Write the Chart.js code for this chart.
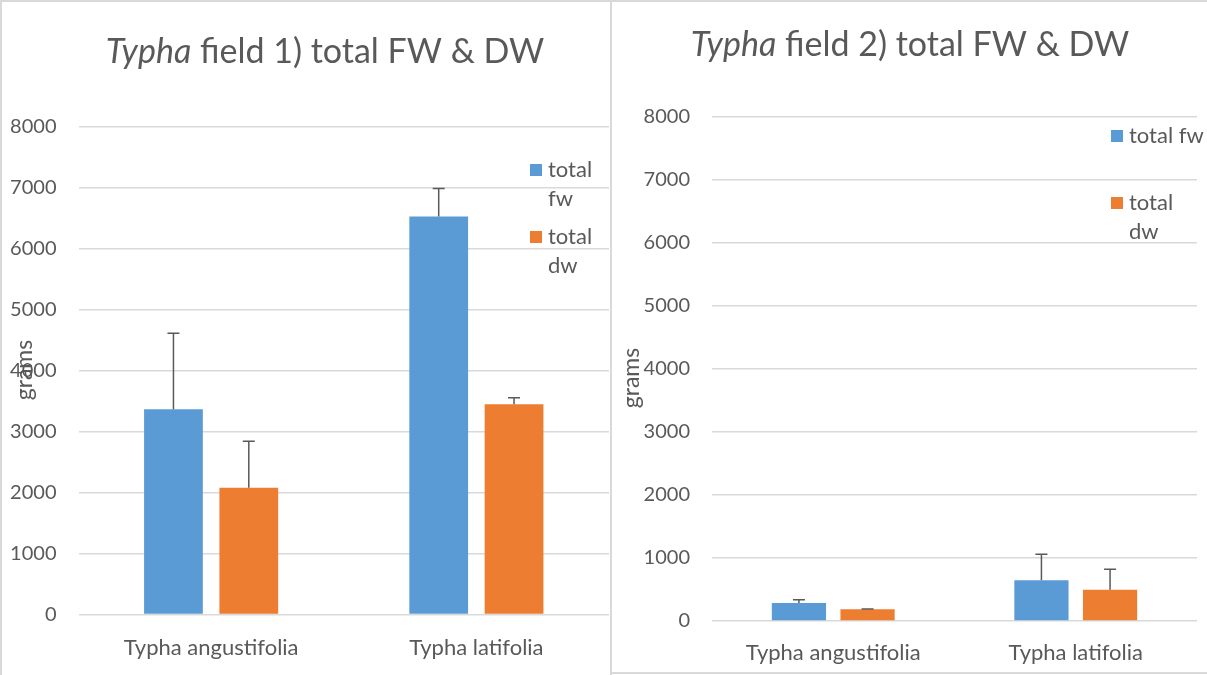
<!DOCTYPE html>
<html>
<head>
<meta charset="utf-8">
<script src="https://cdn.jsdelivr.net/npm/chart.js@4.4.1/dist/chart.umd.min.js"></script>
<style>
  html, body { margin: 0; padding: 0; background: #fff; }
  #wrap { position: relative; width: 1207px; height: 675px; overflow: hidden; }
  canvas { position: absolute; top: 0; }
  #c1 { left: 0; }
  #c2 { left: 610px; }
</style>
</head>
<body>
<div id="wrap">
  <canvas id="c1" width="610" height="675"></canvas>
  <canvas id="c2" width="597" height="675"></canvas>
</div>
<script>
// data
const categories = ['Typha angustifolia', 'Typha latifolia'];
const seriesNames = ['total fw', 'total dw'];
const yMin = 0, yMax = 8000, yStep = 1000;

const field1Fw = [3370, 6530];
const field1FwErr = [1245, 460];
const field1Dw = [2080, 3450];
const field1DwErr = [765, 105];

const field2Fw = [285, 645];
const field2FwErr = [52, 413];
const field2Dw = [186, 497];
const field2DwErr = [5, 324];

const BLUE = '#5b9bd5';
const ORANGE = '#ed7d31';
const TEXT = '#595959';
const GRID = '#d9d9d9';
const FONT = 'Lato, "Open Sans", sans-serif';

// error bars, title, legend, axis title, frame
const overlay = {
  id: 'overlay',
  afterDatasetsDraw(chart, args, o) {
    const ctx = chart.ctx;
    const y = chart.scales.y;
    ctx.save();
    ctx.strokeStyle = TEXT;
    ctx.lineWidth = 1.5;
    chart.data.datasets.forEach((ds, i) => {
      chart.getDatasetMeta(i).data.forEach((bar, j) => {
        const y0 = y.getPixelForValue(ds.data[j]);
        const y1 = y.getPixelForValue(ds.data[j] + ds.errors[j]);
        ctx.beginPath();
        ctx.moveTo(bar.x, y0);
        ctx.lineTo(bar.x, y1);
        ctx.moveTo(bar.x - 6, y1);
        ctx.lineTo(bar.x + 6, y1);
        ctx.stroke();
      });
    });
    ctx.restore();
  },
  afterDraw(chart, args, o) {
    const ctx = chart.ctx;
    ctx.save();
    // title with italic genus
    ctx.fillStyle = TEXT;
    ctx.textBaseline = 'middle';
    ctx.textAlign = 'left';
    const italic = 'italic ' + o.titleSize + 'px ' + FONT;
    const normal = o.titleSize + 'px ' + FONT;
    ctx.font = italic;
    const w1 = ctx.measureText(o.titleItalic).width;
    ctx.font = normal;
    const w2 = ctx.measureText(o.titleRest).width;
    let tx = o.titleX - (w1 + w2) / 2;
    ctx.font = italic;
    ctx.fillText(o.titleItalic, tx, o.titleY);
    ctx.font = normal;
    ctx.fillText(o.titleRest, tx + w1, o.titleY);

    // legend
    ctx.font = o.legendSize + 'px ' + FONT;
    o.legend.forEach((item, i) => {
      ctx.fillStyle = chart.data.datasets[i].backgroundColor;
      ctx.fillRect(item.x, item.y - 6, 12, 12);
      ctx.fillStyle = TEXT;
      item.lines.forEach((line, k) => {
        ctx.fillText(line, item.x + 18, item.y + k * o.lineGap);
      });
    });

    // y axis title
    ctx.font = o.axisTitleSize + 'px ' + FONT;
    ctx.translate(o.axisTitleX, o.axisTitleY);
    ctx.rotate(-Math.PI / 2);
    ctx.textAlign = 'center';
    ctx.fillText('grams', 0, 0);
    ctx.setTransform(1, 0, 0, 1, 0, 0);

    // frame lines
    ctx.strokeStyle = GRID;
    ctx.lineWidth = 2;
    o.frame.forEach(l => {
      ctx.beginPath();
      ctx.moveTo(l[0], l[1]);
      ctx.lineTo(l[2], l[3]);
      ctx.stroke();
    });
    ctx.restore();
  }
};

function makeChart(id, fw, fwErr, dw, dwErr, look) {
  return new Chart(document.getElementById(id), {
    type: 'bar',
    data: {
      labels: categories,
      datasets: [
        { label: seriesNames[0], data: fw, errors: fwErr, backgroundColor: BLUE,
          categoryPercentage: look.catPct, barPercentage: look.barPct },
        { label: seriesNames[1], data: dw, errors: dwErr, backgroundColor: ORANGE,
          categoryPercentage: look.catPct, barPercentage: look.barPct }
      ]
    },
    options: {
      responsive: false,
      animation: false,
      layout: { padding: { left: 0, top: look.top, right: look.right, bottom: 0 } },
      plugins: {
        legend: { display: false },
        tooltip: { enabled: false },
        overlay: look.overlay
      },
      scales: {
        x: {
          grid: { display: false, drawTicks: false },
          border: { display: false },
          ticks: { color: TEXT, font: { family: FONT, size: look.xTickSize }, padding: look.xPad },
          afterFit: s => { s.height = look.xHeight; }
        },
        y: {
          min: yMin, max: yMax,
          ticks: { stepSize: yStep, color: TEXT, font: { family: FONT, size: look.yTickSize },
                   padding: look.yPad, callback: v => String(v) },
          grid: { color: GRID, lineWidth: 1.5, drawTicks: false },
          border: { display: false },
          afterFit: s => { s.width = look.yWidth; }
        }
      }
    },
    plugins: [overlay]
  });
}

makeChart('c1', field1Fw, field1FwErr, field1Dw, field1DwErr, {
  top: 127, right: 1, xHeight: 60.5, yWidth: 78.5, xPad: 20, yPad: 22,
  catPct: 0.568, barPct: 0.78, xTickSize: 22, yTickSize: 20,
  overlay: {
    titleItalic: 'Typha', titleRest: ' field 1) total FW & DW', titleSize: 34,
    titleX: 325, titleY: 52, legendSize: 22, lineGap: 29,
    legend: [
      { x: 530, y: 170, lines: ['total', 'fw'] },
      { x: 530, y: 237, lines: ['total', 'dw'] }
    ],
    axisTitleSize: 23, axisTitleX: 25, axisTitleY: 370,
    frame: [[1, 0, 1, 675], [0, 1, 610, 1]]
  }
});

makeChart('c2', field2Fw, field2FwErr, field2Dw, field2DwErr, {
  top: 117, right: 10, xHeight: 54, yWidth: 102, xPad: 19, yPad: 22,
  catPct: 0.566, barPct: 0.79, xTickSize: 22, yTickSize: 20,
  overlay: {
    titleItalic: 'Typha', titleRest: ' field 2) total FW & DW', titleSize: 34,
    titleX: 300, titleY: 45, legendSize: 22, lineGap: 29,
    legend: [
      { x: 501, y: 136, lines: ['total fw'] },
      { x: 501, y: 203, lines: ['total', 'dw'] }
    ],
    axisTitleSize: 23, axisTitleX: 22, axisTitleY: 378,
    frame: [[1, 0, 1, 675], [0, 1, 597, 1], [0, 673, 597, 673]]
  }
});
</script>
</body>
</html>
